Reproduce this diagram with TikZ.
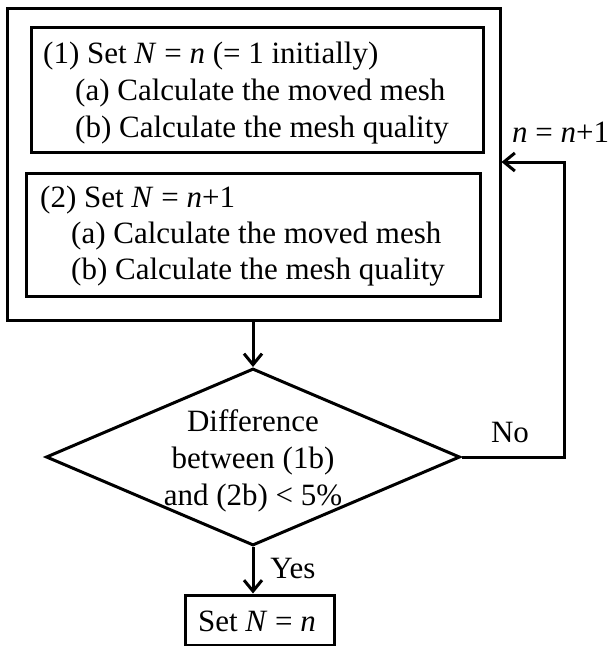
\documentclass[tikz,border=0pt]{standalone}
\usepackage{fontspec}
\setmainfont{Liberation Serif}
\usetikzlibrary{shapes.geometric,arrows.meta}
\begin{document}
\begin{tikzpicture}[x=1pt,y=-1pt,
  box/.style={draw, line width=3pt, inner sep=0pt},
  txt/.style={anchor=base west, inner sep=0pt, font=\fontsize{31}{37}\selectfont},
  ctxt/.style={anchor=base, inner sep=0pt, font=\fontsize{31}{37}\selectfont},
  flow/.style={line width=3pt, -{Straight Barb[length=11pt,width=18pt,line width=3pt]}}]
\useasboundingbox (0,0) rectangle (609,646);
\node[box, minimum width=493pt, minimum height=312pt] (outer) at (253.5,164) {};
\node[box, minimum width=452pt, minimum height=125pt] (b1) at (257,89.5) {};
\node[box, minimum width=454pt, minimum height=123pt] (b2) at (253,234.5) {};
\node[txt] (t11) at (43,63) {(1) Set \textit{N} = \textit{n} (= 1 initially)};
\node[txt] (t12) at (75,100) {(a) Calculate the moved mesh};
\node[txt] (t13) at (75,137) {(b) Calculate the mesh quality};
\node[txt] (t21) at (40,207) {(2) Set \textit{N} = \textit{n}+1};
\node[txt] (t22) at (71,243) {(a) Calculate the moved mesh};
\node[txt] (t23) at (71,279) {(b) Calculate the mesh quality};
\node[diamond, draw, line width=3pt, minimum width=414pt, minimum height=177pt, inner sep=0pt] (dia) at (253,457) {};
\node[ctxt] (d1) at (253,431) {Difference};
\node[ctxt] (d2) at (253,468) {between (1b)};
\node[ctxt] (d3) at (253,505) {and (2b) {<} 5\%};
\node[box, minimum width=149pt, minimum height=50pt] (fin) at (259.5,620) {};
\node[ctxt] (fint) at (257,631) {Set \textit{N} = \textit{n}};
\node[ctxt] (no) at (510,442) {No};
\node[ctxt] (yes) at (293,578) {Yes};
\node[txt] (nn) at (512,142) {\textit{n} = \textit{n}+1};
\coordinate (c1) at (564,162);
\draw[flow] (outer.south -| dia.north) -- (dia.north);
\draw[flow] (dia.south) -- (dia.south |- fin.north);
\draw[flow] (dia.east) -| (c1) -- (c1 -| outer.east);
\end{tikzpicture}
\end{document}
